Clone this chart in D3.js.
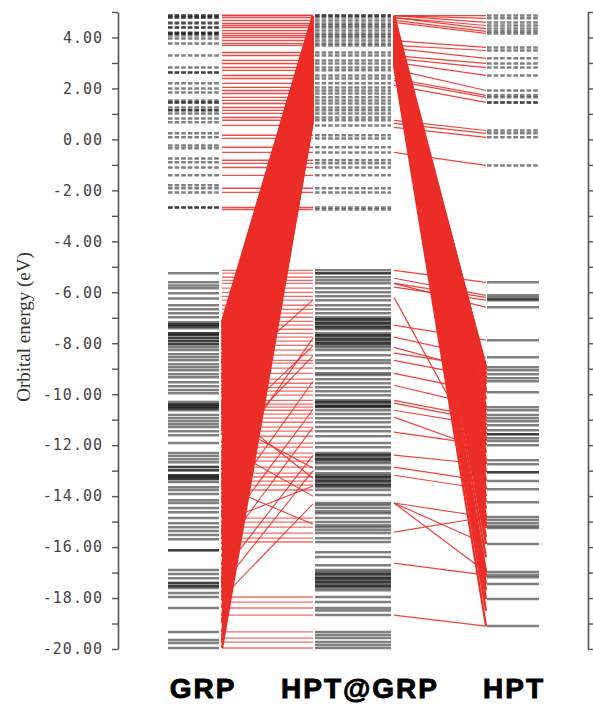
<!DOCTYPE html>
<html>
<head>
<meta charset="utf-8">
<title>Orbital energy levels</title>
<script src="https://d3js.org/d3.v7.min.js"></script>
<style>
  body { margin: 0; background: #fff; }
</style>
</head>
<body>
<svg width="593" height="705"></svg>
<script>
// ---- data (eV) ----
const columns = ["GRP", "HPT@GRP", "HPT"];

const grpVirtual = [4.86, 4.86, 4.78, 4.78, 4.59, 4.55, 4.39, 4.39, 4.20, 4.16, 4.16, 4.08, 3.96, 3.76,
  3.29, 2.82, 2.63, 2.63, 2.20, 2.00, 1.84, 1.53, 1.45, 1.45, 1.25, 1.14, 1.14, 1.02, 0.82, 0.67,
  0.24, 0.08, -0.24, -0.35, -0.75, -0.90, -1.10, -1.41, -1.80, -1.92, -2.08, -2.67, -2.67];

const grpOccupied = [-5.25, -5.61, -5.73, -5.84, -6.04, -6.24, -6.51, -6.67, -6.82, -6.98,
  -7.18, -7.25, -7.25, -7.33, -7.33, -7.41, -7.61, -7.61, -7.69, -7.69, -7.80, -7.80, -7.92, -7.92,
  -8.04, -8.04, -8.16, -8.27, -8.43, -8.55, -8.67, -8.82, -8.94, -9.06, -9.22, -9.33, -9.53, -9.69,
  -9.84, -9.96, -10.31, -10.39, -10.39, -10.47, -10.47, -10.55, -10.55, -10.63, -10.82, -10.94,
  -11.06, -11.18, -11.29, -11.45, -11.61, -11.92, -12.31, -12.43, -12.55, -12.67, -12.86, -12.86,
  -12.98, -12.98, -13.18, -13.18, -13.25, -13.25, -13.33, -13.33, -13.45, -13.65, -13.76, -13.92,
  -14.16, -14.27, -14.47, -14.63, -14.86, -15.06, -15.22, -15.37, -15.53, -15.69, -16.12, -16.12,
  -16.90, -17.06, -17.22, -17.41, -17.41, -17.53, -17.53, -17.61, -17.80, -17.96, -18.39, -19.33,
  -19.65, -19.76, -19.96];

const complexVirtual = [4.86, 4.86, 4.78, 4.67, 4.55, 4.47, 4.39, 4.27, 4.16, 4.08, 4.00, 3.88,
  3.76, 3.69, 3.41, 3.29, 3.10, 2.98, 2.82, 2.71, 2.51, 2.39, 2.20, 2.04, 1.92, 1.80, 1.65, 1.53,
  1.41, 1.25, 1.14, 1.02, 0.86, 0.75, 0.55, 0.16, 0.04, -0.31, -0.51, -0.82, -0.94, -1.10, -1.41,
  -1.92, -2.08, -2.67, -2.75];

const complexOccupied = [-5.14, -5.25, -5.25, -5.41, -5.53, -5.65, -5.84, -6.00, -6.16, -6.31,
  -6.51, -6.67, -6.82, -6.98, -7.06, -7.06, -7.14, -7.22, -7.22, -7.29, -7.37, -7.37, -7.45, -7.61,
  -7.69, -7.69, -7.76, -7.84, -7.84, -7.92, -8.00, -8.00, -8.08, -8.16, -8.27, -8.47, -8.67, -8.78,
  -8.98, -9.18, -9.25, -9.41, -9.57, -9.73, -9.88, -10.04, -10.24, -10.31, -10.31, -10.39, -10.47,
  -10.47, -10.51, -10.63, -10.78, -10.94, -11.10, -11.29, -11.45, -11.65, -11.92, -12.08, -12.31,
  -12.39, -12.39, -12.47, -12.55, -12.55, -12.63, -12.71, -12.86, -12.94, -13.10, -13.18, -13.25,
  -13.25, -13.33, -13.41, -13.41, -13.49, -13.57, -13.57, -13.65, -13.76, -13.96, -14.27, -14.35,
  -14.47, -14.59, -14.67, -14.86, -15.02, -15.14, -15.22, -15.33, -15.45, -15.65, -15.80, -16.20,
  -16.39, -16.71, -16.90, -16.98, -17.06, -17.06, -17.14, -17.22, -17.22, -17.29, -17.37, -17.37,
  -17.45, -17.53, -17.53, -17.61, -17.69, -17.96, -18.16, -18.39, -18.49, -18.67, -19.33, -19.45,
  -19.57, -19.73, -19.84, -19.96];

const hptVirtual = [4.86, 4.75, 4.59, 4.47, 4.35, 4.24, 4.16, 3.61, 3.49, 3.18, 2.98, 2.82, 2.51,
  1.92, 1.73, 1.65, 1.45, 1.45, 0.35, 0.24, 0.08, -1.02];

const hptOccupied = [-5.61, -6.12, -6.20, -6.27, -6.31, -6.59, -7.88, -8.55, -8.94, -9.06, -9.22,
  -9.37, -9.49, -9.92, -10.51, -10.63, -10.82, -10.94, -11.06, -11.22, -11.41, -11.57, -11.57,
  -11.73, -11.84, -12.00, -12.59, -12.75, -13.06, -13.06, -13.41, -13.73, -14.24, -14.82, -14.94,
  -15.06, -15.18, -15.25, -15.88, -16.98, -17.10, -17.18, -17.45, -18.04, -19.10];

// red correlation lines GRP -> HPT@GRP  [GRP level, HPT@GRP level]
const grpFlatLinks = [-5.14, -5.25, -5.41, -5.53, -5.65, -5.84, -6.00, -6.16, -6.31, -6.51, -6.67,
  -6.82, -6.98, -7.14, -7.29, -7.45, -7.61, -7.76, -7.92, -8.08, -8.27, -8.47, -8.67, -8.78, -8.98,
  -9.18, -9.41, -9.57, -9.73, -9.88, -10.04, -10.24, -10.39, -10.51, -10.63, -10.78, -10.94, -11.10,
  -11.29, -11.45, -11.65, -11.92, -12.08, -12.31, -12.47, -12.63, -12.86, -13.10, -13.25, -13.41,
  -13.57, -13.76, -14.86, -15.02, -15.22, -15.45, -15.65, -15.80, -17.96, -18.16, -18.39, -18.67,
  -19.33, -19.57, -19.73, -19.96];

const grpBand = [[-7.18, 4.86], [-7.25, 4.84], [-7.33, 4.81], [-7.41, 4.79], [-7.61, 4.72],
  [-7.69, 4.70], [-7.80, 4.66], [-7.92, 4.62], [-8.04, 4.58], [-8.16, 4.54], [-8.27, 4.51],
  [-8.43, 4.46], [-8.55, 4.42], [-8.67, 4.38], [-8.82, 4.33], [-8.94, 4.29], [-9.06, 4.26],
  [-9.22, 4.20], [-9.33, 4.17], [-9.53, 4.10], [-9.69, 4.05], [-9.84, 4.00], [-9.96, 3.97],
  [-10.31, 3.85], [-10.39, 3.83], [-10.47, 3.80], [-10.55, 3.78], [-10.63, 3.75], [-10.82, 3.69],
  [-10.94, 3.65], [-11.06, 3.61], [-11.18, 3.57], [-11.29, 3.54], [-11.45, 3.49], [-11.61, 3.44],
  [-11.92, 3.34], [-12.31, 3.21], [-12.43, 3.17], [-12.55, 3.13], [-12.67, 3.10], [-12.86, 3.03],
  [-12.98, 2.99], [-13.18, 2.93], [-13.25, 2.91], [-13.33, 2.88], [-13.45, 2.84], [-13.65, 2.78],
  [-13.76, 2.74], [-13.92, 2.69], [-14.16, 2.62], [-14.27, 2.58], [-14.47, 2.52], [-14.63, 2.46],
  [-14.86, 2.39], [-15.06, 2.33], [-15.22, 2.27], [-15.37, 2.23], [-15.53, 2.18], [-15.69, 2.12],
  [-16.12, 1.99], [-16.40, 1.90], [-16.70, 1.80], [-16.90, 1.73], [-17.06, 1.68], [-17.22, 1.63],
  [-17.41, 1.57], [-17.53, 1.53], [-17.61, 1.51], [-17.80, 1.45], [-17.96, 1.39], [-18.39, 1.26],
  [-18.70, 1.15], [-19.00, 1.05], [-19.33, 0.95], [-19.65, 0.85], [-19.76, 0.82], [-19.96, 0.75],
  [-7.50, 4.76], [-8.10, 4.56], [-8.75, 4.35], [-9.40, 4.14], [-10.10, 3.92], [-10.75, 3.72],
  [-11.40, 3.51], [-12.10, 3.28], [-12.76, 3.06], [-13.55, 2.81], [-14.05, 2.66], [-14.75, 2.42],
  [-15.45, 2.20], [-15.90, 2.06], [-17.30, 1.60], [-18.10, 1.34], [-18.90, 1.08], [-19.50, 0.90]];

const grpCrossLinks = [[-14.50, -9.50], [-15.40, -10.60], [-13.00, -7.80], [-12.20, -8.50],
  [-16.10, -11.30], [-17.00, -12.40], [-11.00, -12.90], [-10.50, -13.30], [-12.00, -14.00],
  [-13.60, -15.10], [-15.00, -13.60], [-18.00, -14.30], [-17.50, -13.00], [-11.50, -8.10],
  [-9.50, -6.30]];

// red correlation lines HPT@GRP -> HPT  [HPT@GRP level, HPT level]
const hptBand = [[4.80, -9.20], [4.68, -9.80], [4.62, -8.94], [4.60, -9.06], [4.57, -9.22],
  [4.54, -9.37], [4.52, -9.49], [4.45, -9.92], [4.35, -10.51], [4.33, -10.63], [4.30, -10.82],
  [4.28, -10.94], [4.26, -11.06], [4.23, -11.22], [4.20, -11.41], [4.17, -11.57], [4.15, -11.73],
  [4.13, -11.84], [4.10, -12.00], [4.00, -12.59], [3.97, -12.75], [3.92, -13.06], [3.86, -13.41],
  [3.81, -13.73], [3.72, -14.24], [3.62, -14.82], [3.60, -14.94], [3.58, -15.06], [3.56, -15.18],
  [3.55, -15.25], [3.44, -15.88], [3.26, -16.98], [3.24, -17.10], [3.22, -17.18], [3.18, -17.45],
  [3.08, -18.04], [2.90, -19.10], [4.86, -9.00], [4.84, -9.50], [4.74, -9.60], [4.70, -8.94],
  [4.66, -9.37], [4.58, -9.92], [4.49, -10.20], [4.40, -10.63], [4.36, -11.06], [4.31, -11.41],
  [4.24, -11.84], [4.19, -12.30], [4.06, -12.75], [4.02, -13.06], [3.95, -13.41], [3.89, -13.73],
  [3.84, -14.00], [3.77, -14.50], [3.67, -14.94], [3.64, -15.18], [3.50, -15.60], [3.38, -16.40],
  [3.30, -16.98], [3.12, -17.70], [3.00, -18.50]];

const hptLinks = [[4.86, 4.86], [4.86, 4.75], [4.86, 4.59], [4.78, 4.47], [4.78, 4.35],
  [4.67, 4.24], [4.59, 4.16], [3.88, 3.61], [3.69, 3.49], [3.57, 3.18], [3.29, 2.98],
  [3.18, 2.82], [3.02, 2.51], [2.75, 1.92], [2.39, 1.73], [2.31, 1.65], [2.12, 1.45],
  [0.75, 0.35], [0.63, 0.24], [0.47, 0.08], [-0.51, -1.02],
  [-5.14, -5.61], [-5.45, -6.12], [-5.65, -6.20], [-5.80, -6.31], [-5.65, -6.59],
  [-6.20, -12.78], [-7.29, -7.88], [-7.76, -8.55], [-8.16, -9.14], [-8.39, -8.94], [-8.67, -9.37],
  [-9.18, -9.92], [-9.65, -10.51], [-10.24, -10.94], [-10.35, -11.06], [-10.63, -11.22],
  [-10.90, -12.20], [-11.49, -12.00], [-12.39, -12.75], [-12.86, -13.41], [-13.18, -13.73],
  [-14.27, -14.82], [-14.27, -15.88], [-14.27, -16.98], [-15.41, -14.82], [-16.63, -17.10],
  [-18.67, -19.10]];

const tickValues = d3.range(-20, 6);

// ---- layout ----
const svg = d3.select("svg");
const y = d3.scaleLinear().domain([-20, 5]).range([649, 12]);
const colSpan = { "GRP": [168, 219], "HPT@GRP": [315, 391], "HPT": [487, 539] };
const linkSpan1 = [222, 313];
const linkSpan2 = [394, 486];
const labelX = { "GRP": 203, "HPT@GRP": 360, "HPT": 514 };
const red = "#ec2d27";

// red correlation lines
function drawLinks(cls, data, span, width, opacity) {
  svg.append("g")
      .attr("stroke", red)
      .attr("stroke-width", width)
      .attr("stroke-opacity", opacity)
    .selectAll("line." + cls)
    .data(data)
    .join("line")
      .attr("class", cls)
      .attr("x1", span[0])
      .attr("x2", span[1])
      .attr("y1", d => y(d[0]))
      .attr("y2", d => y(d[1]));
}
drawLinks("flat-virt", complexVirtual.map(e => [e, e]), linkSpan1, 1.4, 0.85);
drawLinks("flat-occ", grpFlatLinks.map(e => [e, e]), linkSpan1, 1.3, 0.7);
drawLinks("cross1", grpCrossLinks, linkSpan1, 1.1, 0.9);
drawLinks("band1", grpBand, linkSpan1, 2.4, 1);
drawLinks("links2", hptLinks, linkSpan2, 1.2, 0.9);
drawLinks("band2", hptBand, linkSpan2, 2.2, 1);

// energy levels
function drawLevels(name, virt, occ) {
  const [x0, x1] = colSpan[name];
  const g = svg.append("g")
      .attr("stroke", "#000")
      .attr("stroke-opacity", 0.5)
      .attr("stroke-width", 2.5);
  g.selectAll("line.virt")
    .data(virt)
    .join("line")
      .attr("class", "virt")
      .attr("x1", x0).attr("x2", x1)
      .attr("y1", d => y(d)).attr("y2", d => y(d))
      .attr("stroke-dasharray", "4.6,2");
  g.selectAll("line.occ")
    .data(occ)
    .join("line")
      .attr("class", "occ")
      .attr("x1", x0).attr("x2", x1)
      .attr("y1", d => y(d)).attr("y2", d => y(d));
}
drawLevels("GRP", grpVirtual, grpOccupied);
drawLevels("HPT@GRP", complexVirtual, complexOccupied);
drawLevels("HPT", hptVirtual, hptOccupied);

// axes
const yAxis = d3.axisLeft(y)
  .tickValues(tickValues)
  .tickSize(6)
  .tickSizeOuter(0)
  .tickPadding(9)
  .tickFormat(d => d % 2 === 0 ? d.toFixed(2) : "");
const gy = svg.append("g").attr("transform", "translate(118,0)").call(yAxis);

const gr = svg.append("g").attr("transform", "translate(588,0)")
  .call(d3.axisRight(y).tickValues(tickValues).tickSize(6).tickSizeOuter(0).tickFormat(""));

[gy, gr].forEach(g => {
  g.select(".domain").attr("stroke", "#555").attr("stroke-width", 1.6);
  g.selectAll(".tick line").attr("stroke", "#555").attr("stroke-width", 1.4);
});
gy.selectAll(".tick text")
  .attr("fill", "#444")
  .style("font-family", "'DejaVu Sans Mono', monospace")
  .style("font-size", "15px")
  .style("letter-spacing", "1px");

svg.append("text")
  .attr("transform", "translate(30,327) rotate(-90)")
  .attr("text-anchor", "middle")
  .attr("fill", "#333")
  .style("font-family", "'Liberation Serif', serif")
  .style("font-size", "19px")
  .text("Orbital energy (eV)");

// column labels
svg.selectAll("text.col")
  .data(columns)
  .join("text")
    .attr("class", "col")
    .attr("x", d => labelX[d])
    .attr("y", 698)
    .attr("text-anchor", "middle")
    .attr("fill", "#000")
    .attr("stroke", "#000")
    .attr("stroke-width", 0.9)
    .style("font-family", "'Liberation Sans', Arial, sans-serif")
    .style("font-weight", "bold")
    .style("font-size", "28px")
    .style("letter-spacing", "2px")
    .text(d => d);
</script>
</body>
</html>
